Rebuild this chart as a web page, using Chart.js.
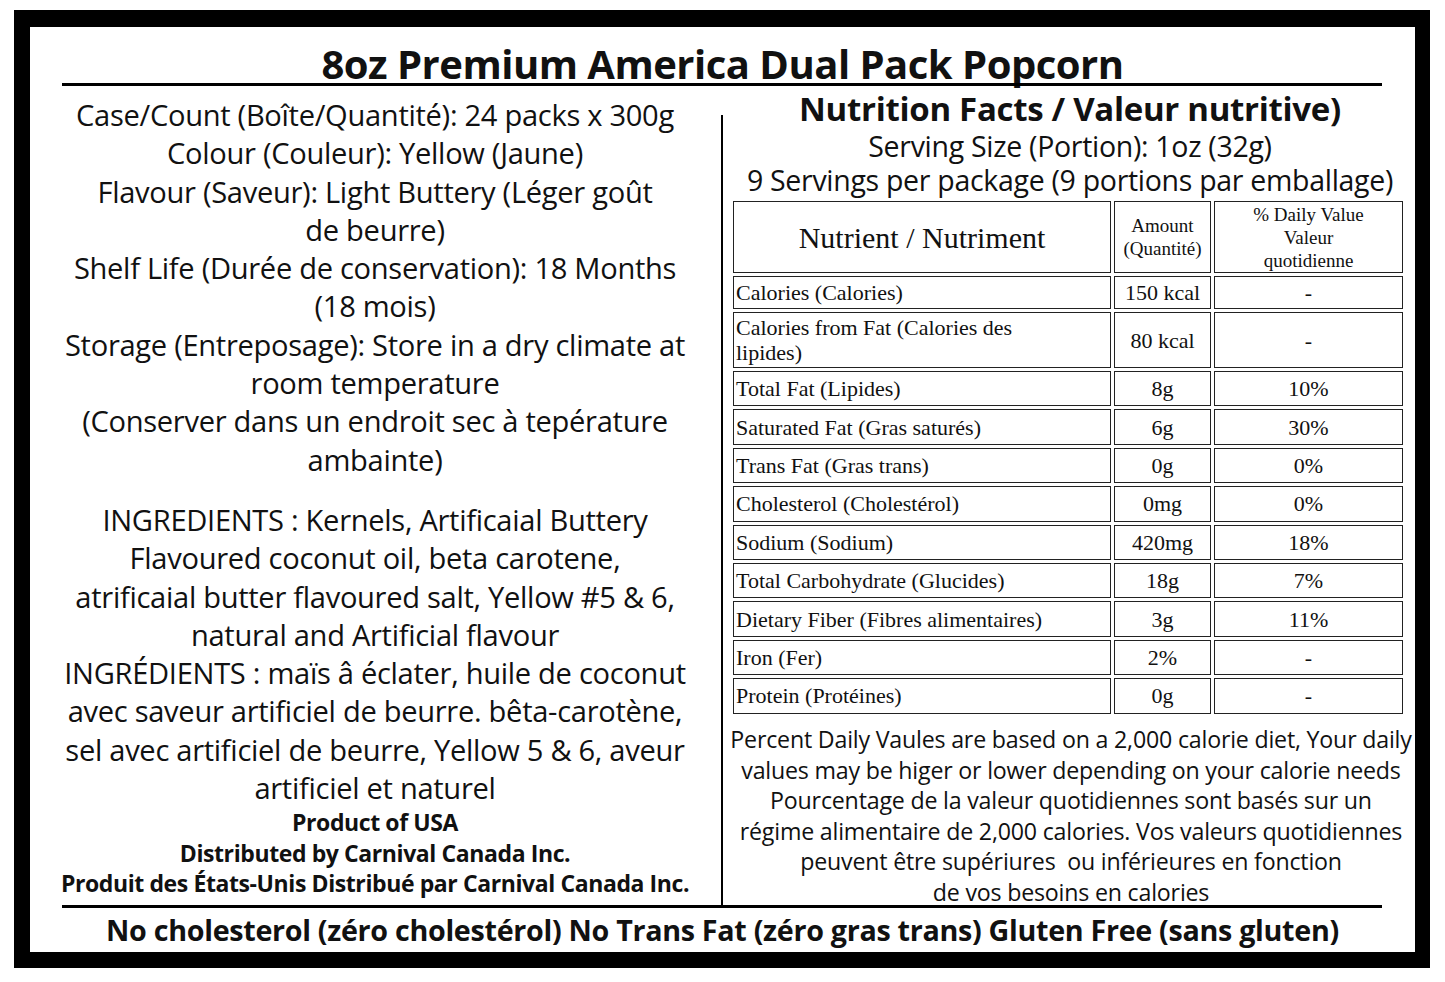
<!DOCTYPE html>
<html><head><meta charset="utf-8">
<script src="https://cdn.jsdelivr.net/npm/chart.js@4"></script>
<style>
body{margin:0;width:1445px;height:982px;background:#fff;font-family:"Open Sans",sans-serif;color:#111;position:relative;overflow:hidden}
#frame{position:absolute;left:14px;top:10px;width:1416px;height:958px;background:#000}
#inner{position:absolute;left:30px;top:27px;width:1385px;height:925px;background:#fff}
.abs{position:absolute}
#title{left:0;width:1445px;top:36px;text-align:center;font-weight:700;font-size:40px;letter-spacing:-0.5px}
.hl{background:#000;height:3px}
#left{left:40px;width:670px;top:96px;text-align:center;font-size:29.1px;line-height:38.3px;letter-spacing:-0.3px}
#left .b{font-weight:700;font-size:23px;line-height:30.5px;letter-spacing:-0.4px}
#rh{left:720px;width:700px;top:88px;text-align:center;font-size:28.5px;line-height:33.5px;letter-spacing:-0.3px}
#rh .h{font-weight:700;font-size:33px;line-height:42px;letter-spacing:-0.3px}
table{position:absolute;left:730px;top:198px;border-collapse:separate;border-spacing:3px;font-family:"Liberation Serif",serif;font-size:22px}
td{border:1.5px solid #222;padding:0 2px;line-height:25px}
td.c{text-align:center}
#note{left:728px;width:686px;top:724px;text-align:center;font-size:23.2px;line-height:30.5px;letter-spacing:-0.2px}
#foot{left:0;width:1445px;top:910px;text-align:center;font-weight:700;font-size:28.7px;letter-spacing:-0.3px}
canvas{display:none}
</style></head><body>
<div id="frame"></div><div id="inner"></div>
<div class="abs" id="title">8oz Premium America Dual Pack Popcorn</div>
<div class="abs hl" style="left:62px;top:83px;width:1320px"></div>
<div class="abs" style="left:721px;top:115px;width:2px;height:790px;background:#000"></div>
<div class="abs" id="left"></div>
<div class="abs" id="rh"><div class="h">Nutrition Facts / Valeur nutritive)</div>
<div>Serving Size (Portion): 1oz (32g)</div><div>9 Servings per package (9 portions par emballage)</div></div>
<table id="tbl"></table>
<div class="abs" id="note">Percent Daily Vaules are based on a 2,000 calorie diet, Your daily<br>values may be higer or lower depending on your calorie needs<br>Pourcentage de la valeur quotidiennes sont basés sur un<br>régime alimentaire de 2,000 calories. Vos valeurs quotidiennes<br>peuvent être supériures &nbsp;ou inférieures en fonction<br>de vos besoins en calories</div>
<div class="abs hl" style="left:62px;top:905px;width:1320px"></div>
<div class="abs" id="foot">No cholesterol (zéro cholestérol) No Trans Fat (zéro gras trans) Gluten Free (sans gluten)</div>
<canvas id="c"></canvas>
<script>
const nutrients = ['Calories (Calories)','Calories from Fat (Calories des lipides)','Total Fat (Lipides)','Saturated Fat (Gras saturés)','Trans Fat (Gras trans)','Cholesterol (Cholestérol)','Sodium (Sodium)','Total Carbohydrate (Glucides)','Dietary Fiber (Fibres alimentaires)','Iron (Fer)','Protein (Protéines)'];
const amounts = ['150 kcal','80 kcal','8g','6g','0g','0mg','420mg','18g','3g','2%','0g'];
const dailyValues = ['-','-','10%','30%','0%','0%','18%','7%','11%','-','-'];
const leftLines = ['Case/Count (Boîte/Quantité): 24 packs x 300g','Colour (Couleur): Yellow (Jaune)','Flavour (Saveur): Light Buttery (Léger goût','de beurre)','Shelf Life (Durée de conservation): 18 Months','(18 mois)','Storage (Entreposage): Store in a dry climate at','room temperature','(Conserver dans un endroit sec à tepérature','ambainte)','','INGREDIENTS : Kernels, Artificaial Buttery','Flavoured coconut oil, beta carotene,','atrificaial butter flavoured salt, Yellow #5 & 6,','natural and Artificial flavour','INGRÉDIENTS : maïs â éclater, huile de coconut','avec saveur artificiel de beurre. bêta-carotène,','sel avec artificiel de beurre, Yellow 5 & 6, aveur','artificiel et naturel'];
const boldLines = ['Product of USA','Distributed by Carnival Canada Inc.','Produit des États-Unis Distribué par Carnival Canada Inc.'];

const L = document.getElementById('left');
leftLines.forEach(t => {
  const d = document.createElement('div');
  d.textContent = t || '\u00a0';
  if (!t) d.style.height = '22px';
  L.appendChild(d);
});
boldLines.forEach(t => { const d = document.createElement('div'); d.className = 'b'; d.textContent = t; L.appendChild(d); });

const T = document.getElementById('tbl');
let html = '<tr style="height:72px"><td style="width:372px;text-align:center;font-size:30px">Nutrient / Nutriment</td>' +
  '<td class="c" style="width:91px;font-size:19px;line-height:23px">Amount<br>(Quantité)</td>' +
  '<td class="c" style="width:183px;font-size:19px;line-height:23px">% Daily Value<br>Valeur<br>quotidienne</td></tr>';
nutrients.forEach((n, i) => {
  const h = i === 1 ? 56 : (i === 0 ? 33 : 35.4);
  html += `<tr style="height:${h}px"><td>${n.replace('(Calories des lipides)','(Calories des<br>lipides)')}</td><td class="c">${amounts[i]}</td><td class="c">${dailyValues[i]}</td></tr>`;
});
T.innerHTML = html;
new Chart(document.getElementById('c'), { type: 'bar', data: { labels: nutrients, datasets: [] }, options: { animation: false } });
</script>
</body></html>
